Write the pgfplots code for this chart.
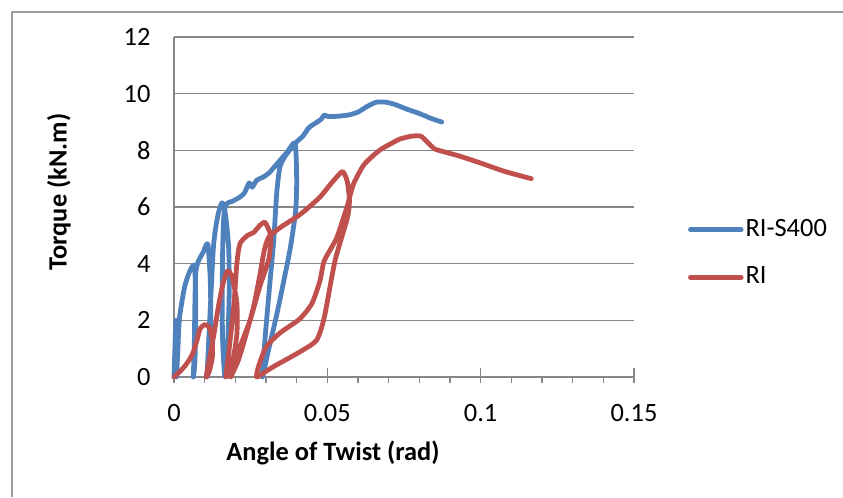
\documentclass[border=0pt]{standalone}
\usepackage{pgfplots}
\pgfplotsset{compat=1.18}
\usepackage{fontspec}
\setmainfont{Carlito}
\definecolor{bl}{HTML}{4F81BD}
\definecolor{rd}{HTML}{C0504D}
\definecolor{gr}{HTML}{868686}
\begin{document}
\fontsize{19.8}{24}\selectfont
\begin{tikzpicture}
\useasboundingbox (0,0) rectangle (632.25pt,372.75pt);
\draw[gr!80, line width=1.1pt] (9pt,0pt) -- (9pt,363.75pt) -- (640pt,363.75pt);
\begin{axis}[
  at={(130.5pt,90pt)}, anchor=south west,
  scale only axis, width=345pt, height=255pt,
  xmin=0, xmax=0.15, ymin=0, ymax=12,
  clip=false,
  axis x line*=bottom, axis y line*=left,
  axis line style={gr, line width=1.1pt},
  xtick={0,0.05,0.1,0.15}, xticklabels={0,0.05,0.1,0.15},
  minor xtick={0.01,0.02,0.03,0.04,0.06,0.07,0.08,0.09,0.11,0.12,0.13,0.14},
  ytick={0,2,4,6,8,10,12}, yticklabels={0,2,4,6,8,10,12},
  tick align=outside, major tick length=4.5pt, minor tick length=4.5pt,
  xtick style={gr, line width=1.1pt},
  ytick style={draw=none},
  extra x ticks={0,0.05,0.1,0.15}, extra x tick labels={},
  extra x tick style={tick align=inside, major tick length=6.75pt},
  ymajorgrids, grid style={gr, line width=1.1pt},
  xticklabel style={anchor=center, yshift=-22.5pt},
  yticklabel style={anchor=east, inner sep=0pt, xshift=-13pt},
  legend style={at={(1.117,0.363)}, anchor=west, draw=none, fill=none, inner sep=0pt, row sep=17pt,
    nodes={inner sep=1.5pt, anchor=west}},
  legend cell align=left,
  legend image code/.code={\draw[#1, line cap=round] (0pt,0pt) -- (38pt,0pt);},
  every axis plot/.append style={line width=3.6pt, line join=round, line cap=round, smooth, tension=0.4},
]
\addplot[bl] coordinates {
(0,0) (0.0003,1.0) (0.0006,2.0)
(0.0009,1.5) (0.0010,0.5) (0.0008,0.0)
(0.0012,0.8) (0.0015,1.6) (0.0018,2.1) (0.0025,2.6) (0.0035,3.2) (0.0050,3.7) (0.0065,3.95)
(0.0070,3.3) (0.0071,1.8) (0.0068,0.5) (0.0063,0.0)
(0.0066,1.0) (0.0068,2.5) (0.0071,3.7) (0.0080,4.1) (0.0095,4.4) (0.0110,4.7)
(0.0118,3.5) (0.0120,2.0) (0.0115,0.5) (0.0108,0.0)
(0.0112,1.0) (0.0120,2.8) (0.0128,4.5) (0.0135,5.2) (0.0145,5.8) (0.0157,6.15)
(0.0167,5.8) (0.0178,4.6) (0.0180,3.0) (0.0175,1.2) (0.0166,0.0)
(0.0158,1.5) (0.0158,4.0) (0.0162,5.6) (0.0170,6.1) (0.0190,6.2) (0.0215,6.35)
(0.0230,6.5) (0.0245,6.85) (0.0255,6.7) (0.0270,6.95) (0.0290,7.05) (0.0310,7.2)
(0.0330,7.45) (0.0350,7.7) (0.0370,7.95) (0.0395,8.25)
(0.0400,7.0) (0.0397,5.9) (0.0380,4.6) (0.0360,3.5) (0.0335,2.2) (0.0305,0.8) (0.0288,0.0)
(0.0298,1.5) (0.0310,3.0) (0.0325,4.8) (0.0335,6.5) (0.0345,7.4) (0.0360,7.75) (0.0380,8.05)
(0.0400,8.3) (0.0420,8.5) (0.0440,8.8) (0.0460,8.95) (0.0480,9.1) (0.0490,9.25) (0.0500,9.2)
(0.0530,9.2) (0.0570,9.25) (0.0600,9.35) (0.0630,9.55) (0.0660,9.7) (0.0690,9.7)
(0.0720,9.62) (0.0760,9.45) (0.0800,9.3) (0.0840,9.12) (0.0873,9.0)
};
\addlegendentry{RI-S400}
\addplot[rd] coordinates {
(0,0) (0.002,0.2) (0.004,0.45) (0.006,0.8) (0.0075,1.3) (0.0085,1.7) (0.0100,1.85)
(0.0115,1.75) (0.0125,1.3) (0.0125,0.7) (0.0115,0.2) (0.0105,0.0)
(0.0115,0.6) (0.0130,1.5) (0.0145,2.5) (0.0160,3.3) (0.0175,3.75)
(0.0190,3.5) (0.0205,2.6) (0.0205,1.5) (0.0190,0.5) (0.0170,0.0)
(0.0180,1.0) (0.0195,2.5) (0.0205,4.0) (0.0215,4.7) (0.0240,5.0) (0.0260,5.1)
(0.0280,5.35) (0.0297,5.45) (0.0315,5.0) (0.0310,4.2) (0.0280,3.2) (0.0248,2.0)
(0.0215,1.05) (0.0195,0.3) (0.0185,0.0)
(0.0210,0.6) (0.0235,1.5) (0.0260,2.5) (0.0280,3.6) (0.0295,4.5) (0.0310,4.95)
(0.0350,5.3) (0.0400,5.65) (0.0430,5.9) (0.0476,6.35) (0.0510,6.8) (0.0530,7.05)
(0.0550,7.25) (0.0565,6.9) (0.0572,6.2) (0.0565,5.6) (0.0525,4.1) (0.0490,2.1)
(0.0465,1.3) (0.0420,0.95) (0.0380,0.7) (0.0330,0.4) (0.0300,0.2) (0.0270,0.0)
(0.0275,0.35) (0.0300,1.05) (0.0345,1.55) (0.0410,2.05) (0.0450,2.6) (0.0476,3.4)
(0.0490,4.1) (0.0530,4.9) (0.0564,6.0) (0.0585,6.8) (0.0620,7.5) (0.0670,8.0)
(0.0710,8.25) (0.0737,8.4) (0.0775,8.5) (0.0805,8.5) (0.0825,8.3) (0.0850,8.05)
(0.0880,7.95) (0.0930,7.8) (0.1000,7.55) (0.1080,7.25) (0.1165,7.0)
};
\addlegendentry{RI}
\end{axis}
\node[font=\fontsize{19.8}{24}\selectfont\bfseries] at (249.75pt,33pt) {Angle of Twist (rad)};
\node[font=\fontsize{19.8}{24}\selectfont\bfseries, rotate=90] at (44.25pt,228.75pt) {Torque (kN.m)};
\end{tikzpicture}
\end{document}
